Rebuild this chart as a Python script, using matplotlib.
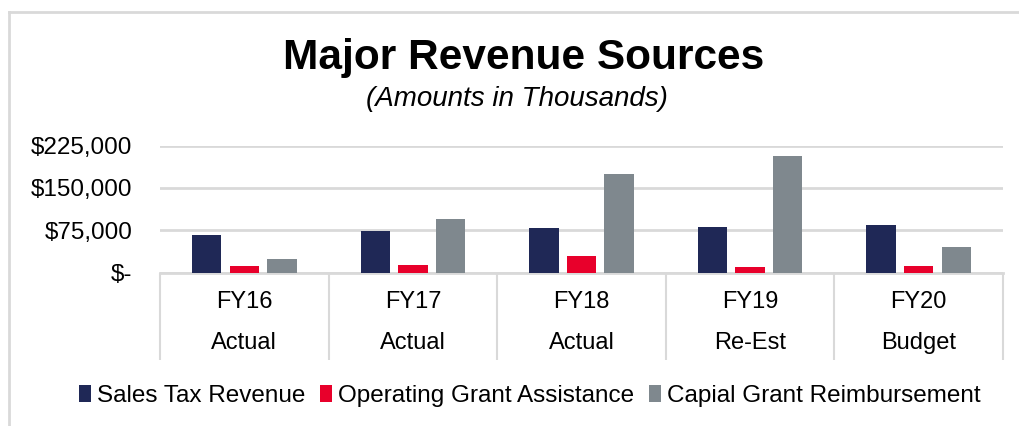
import matplotlib.pyplot as plt
import numpy as np
from matplotlib.patches import Patch
from matplotlib.ticker import FuncFormatter

plt.rcParams['font.family'] = ['Liberation Sans', 'DejaVu Sans']

years = ["FY16", "FY17", "FY18", "FY19", "FY20"]
kinds = ["Actual", "Actual", "Actual", "Re-Est", "Budget"]
series_names = ["Sales Tax Revenue", "Operating Grant Assistance", "Capial Grant Reimbursement"]
sales_tax = [66800, 73900, 78200, 80500, 83500]
operating = [11700, 13000, 29500, 10000, 12400]
capital = [24200, 94200, 174100, 207200, 45500]
colors = ["#1f2856", "#e8002b", "#7f888e"]
yticks = [0, 75000, 150000, 225000]

W, H = 1019, 426
fig = plt.figure(figsize=(W / 100, H / 100), dpi=100)

# outer frame (only left and top edges visible)
fig.add_artist(plt.Line2D([9 / W, 9 / W], [0, 1 - 11.5 / H], color="#d9d9d9", lw=2))
fig.add_artist(plt.Line2D([9 / W, 1], [1 - 11.5 / H, 1 - 11.5 / H], color="#d9d9d9", lw=2))

ax = fig.add_axes([160 / W, 1 - 272.5 / H, (1003 - 160) / W, (272.5 - 145.7) / H])

x = np.arange(len(years))
bw = 0.175
step = 0.223
for i, (vals, name, c) in enumerate(zip([sales_tax, operating, capital], series_names, colors)):
    ax.bar(x + (i - 1) * step, vals, width=bw, color=c, label=name, zorder=3)

ax.set_xlim(-0.5, len(years) - 0.5)
ax.set_ylim(0, 225000)
ax.set_yticks(yticks)
ax.yaxis.set_major_formatter(FuncFormatter(lambda v, p: "$-" if v == 0 else f"${v:,.0f}"))
ax.tick_params(axis="y", length=0, labelsize=17.5, pad=20)
ax.grid(axis="y", color="#d9d9d9", lw=2, zorder=0)

# category axis: separators as minor ticks
ax.set_xticks(x)
ax.set_xticklabels([])
ax.tick_params(axis="x", which="major", length=0)
ax.set_xticks(np.arange(-0.5, len(years)), minor=True)
ax.tick_params(axis="x", which="minor", length=62.5, width=1.5, color="#d9d9d9")

trans = ax.get_xaxis_transform()
for xi, yr, kd in zip(x, years, kinds):
    ax.text(xi, -0.235, yr, transform=trans, ha="center", va="center", fontsize=17)
    ax.text(xi, -0.558, kd, transform=trans, ha="center", va="center", fontsize=17)

for s in ["top", "right", "left"]:
    ax.spines[s].set_visible(False)
ax.spines["bottom"].set_color("#d9d9d9")
ax.spines["bottom"].set_linewidth(2)

fig.text(524 / W, 1 - 58 / H, "Major Revenue Sources", ha="center", va="center",
         fontsize=30.5, fontweight="bold")
fig.text(517 / W, 1 - 99 / H, "(Amounts in Thousands)", ha="center", va="center",
         fontsize=20, style="italic")

handles = [Patch(facecolor=c, edgecolor="none") for c in colors]
fig.legend(handles, series_names, loc="center", bbox_to_anchor=(530 / W, 1 - 396 / H),
           ncol=3, frameon=False, fontsize=17.5, handlelength=0.5, handleheight=0.7,
           handletextpad=0.25, columnspacing=0.6)

fig.savefig("out.png", dpi=100)
